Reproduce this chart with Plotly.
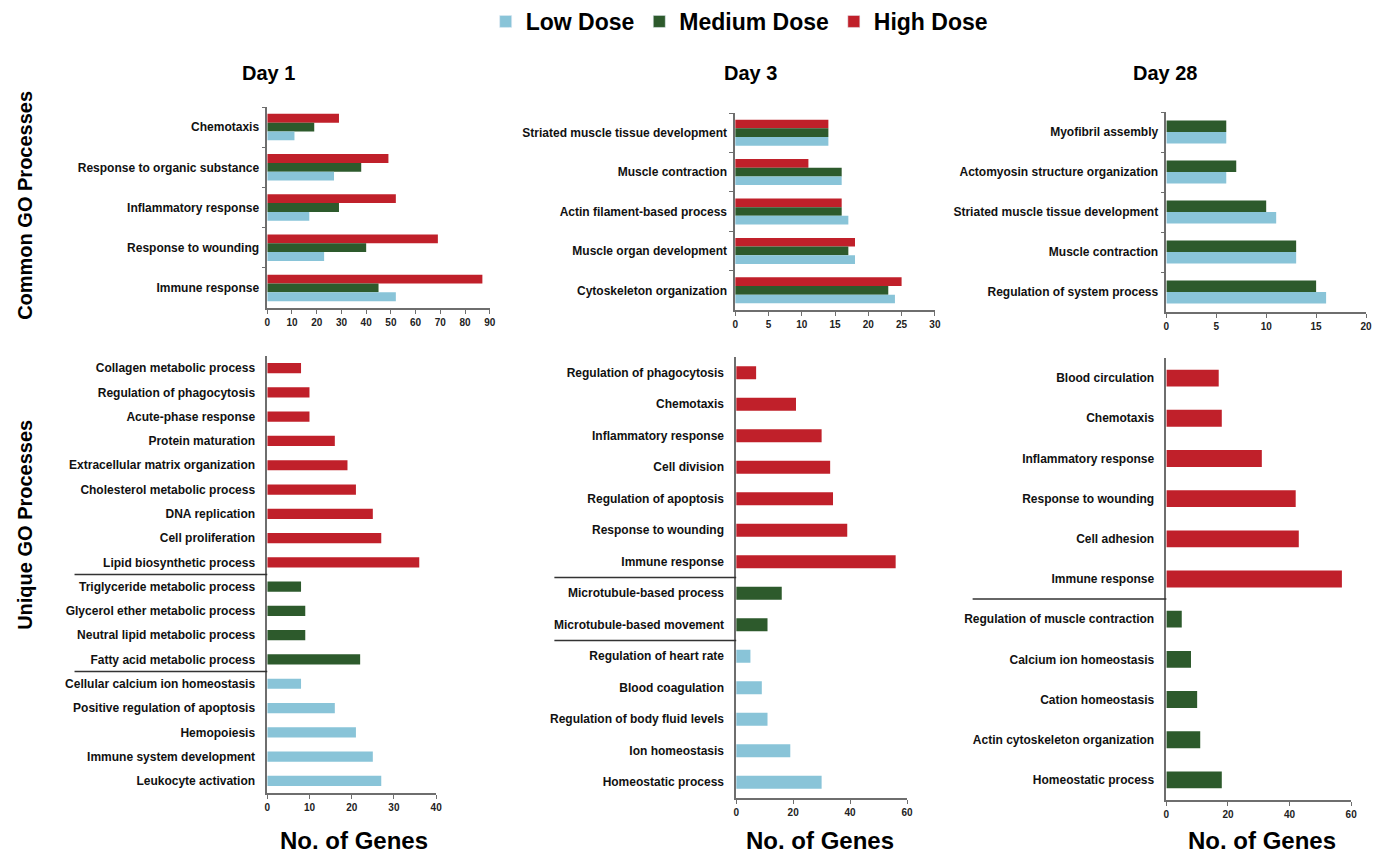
import plotly.graph_objects as go

W, H = 1378, 854
LOW_C = "#89c4d8"
MED_C = "#2d5a2c"
HIGH_C = "#c0202a"
NARROW = "Liberation Sans Narrow, Arial Narrow, Liberation Sans, Arial, sans-serif"
BOLD = "Liberation Sans, Arial, sans-serif"

# ---------------- Common GO processes (top row) ----------------
d1_common_cats = ["Chemotaxis", "Response to organic substance", "Inflammatory response",
                  "Response to wounding", "Immune response"]
d1_common_low = [11, 27, 17, 23, 52]
d1_common_med = [19, 38, 29, 40, 45]
d1_common_high = [29, 49, 52, 69, 87]

d3_common_cats = ["Striated muscle tissue development", "Muscle contraction",
                  "Actin filament-based process", "Muscle organ development",
                  "Cytoskeleton organization"]
d3_common_low = [14, 16, 17, 18, 24]
d3_common_med = [14, 16, 16, 17, 23]
d3_common_high = [14, 11, 16, 18, 25]

d28_common_cats = ["Myofibril assembly", "Actomyosin structure organization",
                   "Striated muscle tissue development", "Muscle contraction",
                   "Regulation of system process"]
d28_common_low = [6, 6, 11, 13, 16]
d28_common_med = [6, 7, 10, 13, 15]

# ---------------- Unique GO processes (bottom row) ----------------
d1_high_cats = ["Collagen metabolic process", "Regulation of phagocytosis", "Acute-phase response",
                "Protein maturation", "Extracellular matrix organization",
                "Cholesterol metabolic process", "DNA replication", "Cell proliferation",
                "Lipid biosynthetic process"]
d1_high_vals = [8, 10, 10, 16, 19, 21, 25, 27, 36]
d1_med_cats = ["Triglyceride metabolic process", "Glycerol ether metabolic process",
               "Neutral lipid metabolic process", "Fatty acid metabolic process"]
d1_med_vals = [8, 9, 9, 22]
d1_low_cats = ["Cellular calcium ion homeostasis", "Positive regulation of apoptosis",
               "Hemopoiesis", "Immune system development", "Leukocyte activation"]
d1_low_vals = [8, 16, 21, 25, 27]

d3_high_cats = ["Regulation of phagocytosis", "Chemotaxis", "Inflammatory response",
                "Cell division", "Regulation of apoptosis", "Response to wounding",
                "Immune response"]
d3_high_vals = [7, 21, 30, 33, 34, 39, 56]
d3_med_cats = ["Microtubule-based process", "Microtubule-based movement"]
d3_med_vals = [16, 11]
d3_low_cats = ["Regulation of heart rate", "Blood coagulation",
               "Regulation of body fluid levels", "Ion homeostasis", "Homeostatic process"]
d3_low_vals = [5, 9, 11, 19, 30]

d28_high_cats = ["Blood circulation", "Chemotaxis", "Inflammatory response",
                 "Response to wounding", "Cell adhesion", "Immune response"]
d28_high_vals = [17, 18, 31, 42, 43, 57]
d28_med_cats = ["Regulation of muscle contraction", "Calcium ion homeostasis",
                "Cation homeostasis", "Actin cytoskeleton organization", "Homeostatic process"]
d28_med_vals = [5, 8, 10, 11, 18]

day_titles = ["Day 1", "Day 3", "Day 28"]
row_titles = ["Common GO Processes", "Unique GO Processes"]
x_title = "No. of Genes"
legend_names = ["Low Dose", "Medium Dose", "High Dose"]


def px_x(a, b):
    return [a / W, b / W]


def px_y(top, bottom):
    return [1 - bottom / H, 1 - top / H]


fig = go.Figure()

# legend-only entries
for name, col in zip(legend_names, [LOW_C, MED_C, HIGH_C]):
    fig.add_trace(go.Bar(x=[None], y=[None], name=name, marker_color=col,
                         showlegend=True, xaxis="x", yaxis="y"))


def add_bar(ax, cats, vals, color, offset, width):
    fig.add_trace(go.Bar(x=vals, y=cats, orientation="h", marker_color=color,
                         marker_line_width=0, offset=offset, width=width,
                         showlegend=False, xaxis="x" + ax, yaxis="y" + ax,
                         hoverinfo="x+y"))

# Top row (reversed y axes: smaller offset = higher on screen)
add_bar("", d1_common_cats, d1_common_high, HIGH_C, -0.33, 0.22)
add_bar("", d1_common_cats, d1_common_med, MED_C, -0.11, 0.22)
add_bar("", d1_common_cats, d1_common_low, LOW_C, 0.11, 0.22)
add_bar("2", d3_common_cats, d3_common_high, HIGH_C, -0.33, 0.22)
add_bar("2", d3_common_cats, d3_common_med, MED_C, -0.11, 0.22)
add_bar("2", d3_common_cats, d3_common_low, LOW_C, 0.11, 0.22)
add_bar("3", d28_common_cats, d28_common_med, MED_C, -0.285, 0.285)
add_bar("3", d28_common_cats, d28_common_low, LOW_C, 0.0, 0.285)

# Bottom row
add_bar("4", d1_high_cats, d1_high_vals, HIGH_C, -0.21, 0.42)
add_bar("4", d1_med_cats, d1_med_vals, MED_C, -0.21, 0.42)
add_bar("4", d1_low_cats, d1_low_vals, LOW_C, -0.21, 0.42)
add_bar("5", d3_high_cats, d3_high_vals, HIGH_C, -0.21, 0.42)
add_bar("5", d3_med_cats, d3_med_vals, MED_C, -0.21, 0.42)
add_bar("5", d3_low_cats, d3_low_vals, LOW_C, -0.21, 0.42)
add_bar("6", d28_high_cats, d28_high_vals, HIGH_C, -0.21, 0.42)
add_bar("6", d28_med_cats, d28_med_vals, MED_C, -0.21, 0.42)

AX_COL = "#6e6e6e"
tickfont_x = dict(family=NARROW, size=10, color="#222", weight="bold")
tickfont_y = dict(family=NARROW, size=12, color="#111", weight="bold")

panels = [
    # key, xdom, ydom, xrange, dtick, cats, yticks
    ("", px_x(266, 490), px_y(107, 308), [0, 90], 10, d1_common_cats, True),
    ("2", px_x(737, 938), px_y(113, 310), [0, 30], 5, d3_common_cats, True),
    ("3", px_x(1171, 1372), px_y(112, 312), [0, 20], 5, d28_common_cats, True),
    ("4", px_x(266, 436), px_y(356, 793), [0, 40], 10,
     d1_high_cats + d1_med_cats + d1_low_cats, False),
    ("5", px_x(738, 910), px_y(357, 798), [0, 60], 20,
     d3_high_cats + d3_med_cats + d3_low_cats, False),
    ("6", px_x(1171, 1357), px_y(358, 800), [0, 60], 20,
     d28_high_cats + d28_med_cats, False),
]

layout = {}
for key, xd, yd, xr, dt, cats, yt in panels:
    n = len(cats)
    layout["xaxis" + key] = dict(
        domain=xd, range=xr, dtick=dt, tick0=0, anchor="y" + key,
        showline=True, linecolor=AX_COL, linewidth=1.5, ticks="outside",
        ticklen=4, tickcolor=AX_COL, showgrid=False, zeroline=False,
        tickfont=tickfont_x, fixedrange=True)
    layout["yaxis" + key] = dict(
        domain=yd, range=[n - 0.5, -0.5], type="category",
        categoryorder="array", categoryarray=cats, anchor="x" + key,
        showline=True, linecolor=AX_COL, linewidth=1.5,
        ticks="outside" if yt else "", tickson="boundaries" if yt else "labels",
        ticklen=4, tickcolor=AX_COL, showgrid=False, zeroline=False,
        tickfont=tickfont_y, ticklabelstandoff=4 if yt else 8, fixedrange=True)

fig.update_layout(**layout)

# separator lines in the bottom row
seps = [
    ("y4", len(d1_high_cats) - 0.5, 72, 266),
    ("y4", len(d1_high_cats) + len(d1_med_cats) - 0.5, 72, 266),
    ("y5", len(d3_high_cats) - 0.5, 555, 738),
    ("y5", len(d3_high_cats) + len(d3_med_cats) - 0.5, 555, 738),
    ("y6", len(d28_high_cats) - 0.5, 976, 1171),
]
for yref, yv, xa, xb in seps:
    fig.add_shape(type="line", xref="paper", yref=yref, x0=xa / W, x1=xb / W,
                  y0=yv, y1=yv, line=dict(color="#333", width=1.5))

annots = []
for t, cx in zip(day_titles, [267, 752, 1170]):
    annots.append(dict(text="<b>" + t + "</b>", x=cx / W, y=1 - 73 / H, xref="paper",
                       yref="paper", showarrow=False, xanchor="center", yanchor="middle",
                       font=dict(family=BOLD, size=20, color="#000")))
for cx in [353, 822, 1267]:
    annots.append(dict(text="<b>" + x_title + "</b>", x=cx / W, y=1 - 840 / H,
                       xref="paper", yref="paper", showarrow=False, xanchor="center",
                       yanchor="middle", font=dict(family=BOLD, size=24, color="#000")))
for t, cy in zip(row_titles, [205, 525]):
    annots.append(dict(text="<b>" + t + "</b>", x=22 / W, y=1 - cy / H, xref="paper",
                       yref="paper", showarrow=False, textangle=-90, xanchor="center",
                       yanchor="middle", font=dict(family=BOLD, size=20, color="#000")))

fig.update_layout(
    width=W, height=H, autosize=False,
    margin=dict(l=0, r=0, t=0, b=0),
    paper_bgcolor="white", plot_bgcolor="white",
    showlegend=True,
    legend=dict(orientation="h", x=741 / W, xanchor="center", y=1.0, yanchor="top",
                font=dict(family=NARROW, size=23, color="#000", weight="bold"),
                itemwidth=30, tracegroupgap=0, bgcolor="rgba(0,0,0,0)"),
    annotations=annots,
    bargap=0.3,
)

fig.write_html("out.html", config={"displayModeBar": False},
               post_script="document.body.style.margin='0';document.body.style.overflow='hidden';")
